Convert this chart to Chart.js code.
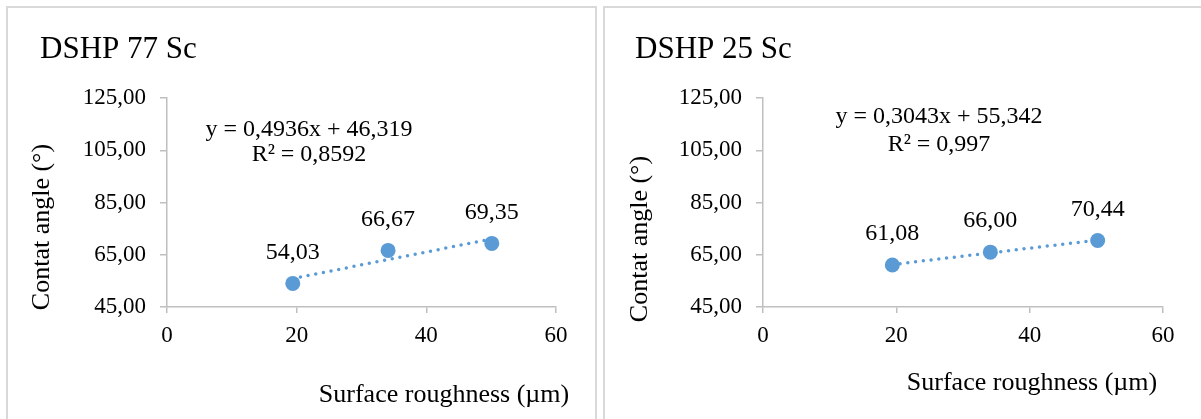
<!DOCTYPE html>
<html>
<head>
<meta charset="utf-8">
<script src="https://cdn.jsdelivr.net/npm/chart.js@4.4.1/dist/chart.umd.min.js"></script>
<style>
  html, body { margin: 0; padding: 0; background: #fff; overflow: hidden; }
  .panel { position: absolute; top: 6px; height: 440px; border: 2px solid #d9d9d9; box-sizing: border-box; }
  #p1 { left: 6px; width: 591px; }
  #p2 { left: 603px; width: 620px; }
  canvas { position: absolute; top: 0; }
</style>
</head>
<body>
<div class="panel" id="p1"></div>
<div class="panel" id="p2"></div>
<canvas id="c1" width="600" height="419" style="left:0px"></canvas>
<canvas id="c2" width="601" height="419" style="left:600px"></canvas>
<script>
// ---------- Data ----------
const titles = ['DSHP 77 Sc', 'DSHP 25 Sc'];
const roughness = [[19.4, 34.1, 50.1], [19.4, 34.1, 50.2]];   // µm
const angles = [[54.03, 66.67, 69.35], [61.08, 66.00, 70.44]]; // degrees
const slopes = [0.4936, 0.3043];
const intercepts = [46.319, 55.342];
const rSquared = [0.8592, 0.997];
const xTicks = [0, 20, 40, 60];
const yTicks = [45, 65, 85, 105, 125];

// ---------- Layout per panel ----------
const layouts = [
  { padLeft: 67, padRight: 44, titleX: 40, yTitle: [42, 227], xTitle: [444, 395], eq: [309, 130, 155] },
  { padLeft: 63, padRight: 38, titleX: 35, yTitle: [40, 239], xTitle: [432, 383], eq: [339, 117, 145] }
];

const BLUE = '#5b9bd5';
const AXIS = '#bfbfbf';
const FONT = '"Liberation Serif", "Times New Roman", serif';

const comma = (v) => String(v).replace('.', ',');
const fixed = (v, d) => v.toFixed(d).replace('.', ',');

// titles, axis titles, equation and point values
const textPlugin = {
  id: 'panelText',
  afterDatasetsDraw(chart, args, o) {
    const ctx = chart.ctx;
    ctx.save();
    ctx.fillStyle = '#000';

    ctx.font = '31px ' + FONT;
    ctx.textAlign = 'left';
    ctx.textBaseline = 'alphabetic';
    ctx.fillText(o.title, o.lay.titleX, 58);

    ctx.font = '26px ' + FONT;
    ctx.textAlign = 'center';
    ctx.textBaseline = 'middle';
    ctx.fillText('Surface roughness (µm)', o.lay.xTitle[0], o.lay.xTitle[1]);
    ctx.save();
    ctx.translate(o.lay.yTitle[0], o.lay.yTitle[1]);
    ctx.rotate(-Math.PI / 2);
    ctx.fillText('Contat angle (°)', 0, 0);
    ctx.restore();

    ctx.font = '24px ' + FONT;
    ctx.fillText('y = ' + comma(o.slope) + 'x + ' + comma(o.intercept), o.lay.eq[0], o.lay.eq[1]);
    ctx.fillText('R² = ' + comma(o.r2), o.lay.eq[0], o.lay.eq[2]);

    const meta = chart.getDatasetMeta(0);
    meta.data.forEach((pt, i) => {
      ctx.fillText(fixed(chart.data.datasets[0].data[i].y, 2), pt.x, pt.y - 31);
    });
    ctx.restore();
  }
};

function makeChart(id, k) {
  const xs = roughness[k], ys = angles[k], lay = layouts[k];
  const pts = xs.map((x, i) => ({ x, y: ys[i] }));
  const x0 = xs[0], x1 = xs[xs.length - 1];
  const trend = [x0, x1].map(x => ({ x, y: slopes[k] * x + intercepts[k] }));

  return new Chart(document.getElementById(id), {
    type: 'scatter',
    data: {
      datasets: [
        { data: pts, backgroundColor: BLUE, borderColor: BLUE, pointRadius: 7.5, pointHoverRadius: 7.5, borderWidth: 0 },
        { data: trend, showLine: true, pointRadius: 0, borderColor: BLUE, borderWidth: 3.5,
          borderDash: [0, 7.8], borderCapStyle: 'round', fill: false }
      ]
    },
    options: {
      responsive: false,
      animation: false,
      events: [],
      layout: { padding: { left: lay.padLeft, right: lay.padRight, top: 98, bottom: 52 } },
      plugins: {
        legend: { display: false },
        tooltip: { enabled: false },
        panelText: { title: titles[k], lay, slope: slopes[k], intercept: intercepts[k], r2: rSquared[k] }
      },
      scales: {
        x: {
          type: 'linear', min: xTicks[0], max: xTicks[xTicks.length - 1],
          afterFit: s => { s.height = 60; },
          afterBuildTicks: s => { s.ticks = xTicks.map(v => ({ value: v })); },
          border: { display: true, color: AXIS, width: 1.5 },
          grid: { drawOnChartArea: false, drawTicks: true, tickLength: 6, color: AXIS, lineWidth: 1.5 },
          ticks: { color: '#000', font: { family: FONT, size: 23 }, padding: 9, maxRotation: 0 }
        },
        y: {
          type: 'linear', min: yTicks[0], max: yTicks[yTicks.length - 1],
          afterFit: s => { s.width = 100; },
          afterBuildTicks: s => { s.ticks = yTicks.map(v => ({ value: v })); },
          border: { display: true, color: AXIS, width: 1.5 },
          grid: { drawOnChartArea: false, drawTicks: true, tickLength: 7, color: AXIS, lineWidth: 1.5 },
          ticks: { color: '#000', font: { family: FONT, size: 23 }, padding: 14, callback: v => fixed(v, 2) }
        }
      }
    },
    plugins: [textPlugin]
  });
}

makeChart('c1', 0);
makeChart('c2', 1);
</script>
</body>
</html>
